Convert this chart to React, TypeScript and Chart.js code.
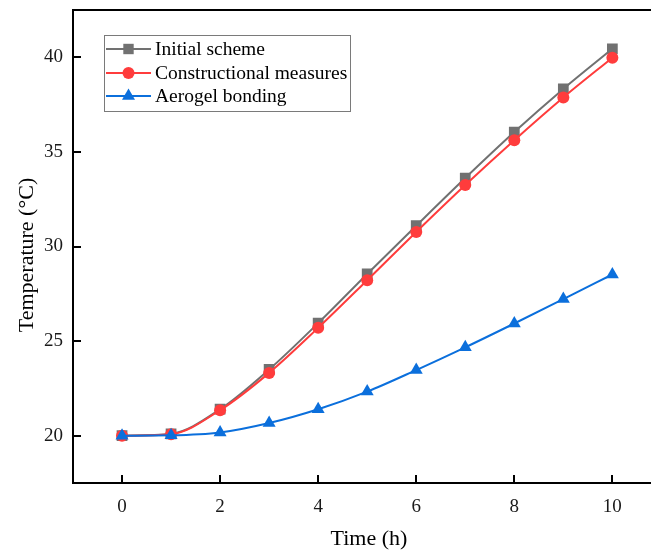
import React, { useEffect, useRef } from 'react';
import { Chart, registerables } from 'chart.js';

Chart.register(...registerables);

const hours = [0, 1, 2, 3, 4, 5, 6, 7, 8, 9, 10];
const initialScheme = [20.0, 20.1, 21.4, 23.5, 25.95, 28.55, 31.1, 33.62, 36.05, 38.33, 40.45];
const constructional = [20.0, 20.08, 21.35, 23.32, 25.7, 28.22, 30.77, 33.25, 35.62, 37.88, 39.98];
const aerogel = [20.0, 20.02, 20.17, 20.67, 21.4, 22.33, 23.47, 24.67, 25.93, 27.22, 28.52];
const xTickValues = [0, 2, 4, 6, 8, 10];
const yTickValues = [20, 25, 30, 35, 40];
const seriesNames = ['Initial scheme', 'Constructional measures', 'Aerogel bonding'];

const GREY = '#717171';
const RED = '#ff3c3c';
const BLUE = '#0b6fdc';
const SERIF = "'Liberation Serif', 'Times New Roman', serif";

function drawMarker(ctx: CanvasRenderingContext2D, kind: string, x: number, y: number, color: string) {
  ctx.save();
  ctx.fillStyle = color;
  ctx.beginPath();
  if (kind === 'rect') {
    ctx.rect(x - 5.2, y - 5.2, 10.4, 10.4);
  } else if (kind === 'circle') {
    ctx.arc(x, y, 6, 0, Math.PI * 2);
  } else {
    const r = 7.5;
    ctx.moveTo(x, y - r);
    ctx.lineTo(x + r * 0.866, y + r * 0.5);
    ctx.lineTo(x - r * 0.866, y + r * 0.5);
    ctx.closePath();
  }
  ctx.fill();
  ctx.restore();
}

const decorPlugin = {
  id: 'decor',
  afterDraw(chart: any) {
    const ctx: CanvasRenderingContext2D = chart.ctx;
    const { left, right, top, bottom } = chart.chartArea;
    const xs = chart.scales.x;
    const ys = chart.scales.y;
    ctx.save();
    // top border
    ctx.strokeStyle = '#000';
    ctx.lineWidth = 2;
    ctx.beginPath();
    ctx.moveTo(left - 1, top);
    ctx.lineTo(right, top);
    ctx.stroke();
    // inward ticks
    ctx.lineWidth = 2;
    xTickValues.forEach((v) => {
      const px = Math.round(xs.getPixelForValue(v));
      ctx.beginPath();
      ctx.moveTo(px, bottom);
      ctx.lineTo(px, bottom - 8);
      ctx.stroke();
    });
    yTickValues.forEach((v) => {
      const py = Math.round(ys.getPixelForValue(v));
      ctx.beginPath();
      ctx.moveTo(left, py);
      ctx.lineTo(left + 8, py);
      ctx.stroke();
    });
    // axis titles
    ctx.fillStyle = '#000';
    ctx.font = `22px ${SERIF}`;
    ctx.textAlign = 'center';
    ctx.textBaseline = 'alphabetic';
    ctx.fillText('Time (h)', 369, 545);
    ctx.save();
    ctx.translate(33, 255);
    ctx.rotate(-Math.PI / 2);
    ctx.fillText('Temperature (\u00B0C)', 0, 0);
    ctx.restore();
    // legend
    ctx.strokeStyle = '#7a7a7a';
    ctx.lineWidth = 1;
    ctx.strokeRect(104.5, 35.5, 246, 76);
    const rows = [
      { y: 49, color: GREY, kind: 'rect', name: seriesNames[0] },
      { y: 73, color: RED, kind: 'circle', name: seriesNames[1] },
      { y: 96, color: BLUE, kind: 'triangle', name: seriesNames[2] },
    ];
    ctx.font = `19.5px ${SERIF}`;
    ctx.textAlign = 'left';
    ctx.textBaseline = 'middle';
    rows.forEach((r) => {
      ctx.strokeStyle = r.color;
      ctx.lineWidth = 2;
      ctx.beginPath();
      ctx.moveTo(106, r.y);
      ctx.lineTo(151, r.y);
      ctx.stroke();
      drawMarker(ctx, r.kind, 128.5, r.y, r.color);
      ctx.fillStyle = '#000';
      ctx.fillText(r.name, 155, r.y + 1);
    });
    ctx.restore();
  },
};

export default function App() {
  const canvasRef = useRef<HTMLCanvasElement | null>(null);

  useEffect(() => {
    const canvas = canvasRef.current;
    if (!canvas) return;
    const mk = (vals: number[]) => hours.map((h, i) => ({ x: h, y: vals[i] }));
    const chart = new Chart(canvas, {
      type: 'line',
      data: {
        datasets: [
          {
            label: seriesNames[0],
            data: mk(initialScheme),
            borderColor: GREY,
            backgroundColor: GREY,
            pointBackgroundColor: GREY,
            pointStyle: 'rect',
            pointRadius: 7.6,
            pointBorderWidth: 0,
            borderWidth: 2,
            cubicInterpolationMode: 'monotone',
            order: 3,
          },
          {
            label: seriesNames[1],
            data: mk(constructional),
            borderColor: RED,
            backgroundColor: RED,
            pointBackgroundColor: RED,
            pointStyle: 'circle',
            pointRadius: 6,
            pointBorderWidth: 0,
            borderWidth: 2,
            cubicInterpolationMode: 'monotone',
            order: 2,
          },
          {
            label: seriesNames[2],
            data: mk(aerogel),
            borderColor: BLUE,
            backgroundColor: BLUE,
            pointBackgroundColor: BLUE,
            pointStyle: 'triangle',
            pointRadius: 7.5,
            pointBorderWidth: 0,
            borderWidth: 2,
            cubicInterpolationMode: 'monotone',
            order: 1,
          },
        ],
      },
      options: {
        animation: false,
        responsive: false,
        devicePixelRatio: 1,
        layout: { padding: { left: 0, top: 10, right: 1, bottom: 0 } },
        plugins: { legend: { display: false }, tooltip: { enabled: false } },
        scales: {
          x: {
            type: 'linear',
            min: -1,
            max: 11,
            afterBuildTicks: (scale: any) => {
              scale.ticks = xTickValues.map((v) => ({ value: v }));
            },
            afterFit: (scale: any) => {
              scale.height = 69;
              scale.paddingLeft = 0;
              scale.paddingRight = 0;
              scale.paddingTop = 0;
              scale.paddingBottom = 0;
            },
            grid: { display: true, drawOnChartArea: false, drawTicks: false, color: 'rgba(0,0,0,0)' },
            border: { display: true, color: '#000', width: 2 },
            ticks: {
              padding: 13,
              color: '#1a1a1a',
              font: { family: SERIF, size: 19 },
              maxRotation: 0,
              autoSkip: false,
            },
          },
          y: {
            type: 'linear',
            min: 17.5,
            max: 42.5,
            afterBuildTicks: (scale: any) => {
              scale.ticks = yTickValues.map((v) => ({ value: v }));
            },
            afterFit: (scale: any) => {
              scale.width = 73;
              scale.paddingLeft = 0;
              scale.paddingRight = 0;
              scale.paddingTop = 0;
              scale.paddingBottom = 0;
            },
            grid: { display: true, drawOnChartArea: false, drawTicks: false, color: 'rgba(0,0,0,0)' },
            border: { display: true, color: '#000', width: 2 },
            ticks: {
              padding: 10,
              color: '#1a1a1a',
              font: { family: SERIF, size: 19 },
              autoSkip: false,
            },
          },
        },
      },
      plugins: [decorPlugin],
    } as any);
    return () => chart.destroy();
  }, []);

  return (
    <div style={{ position: 'fixed', left: 0, top: 0, width: 651, height: 552, overflow: 'hidden', background: '#fff' }}>
      <canvas ref={canvasRef} width={669} height={552} style={{ width: 669, height: 552, display: 'block' }} />
    </div>
  );
}
